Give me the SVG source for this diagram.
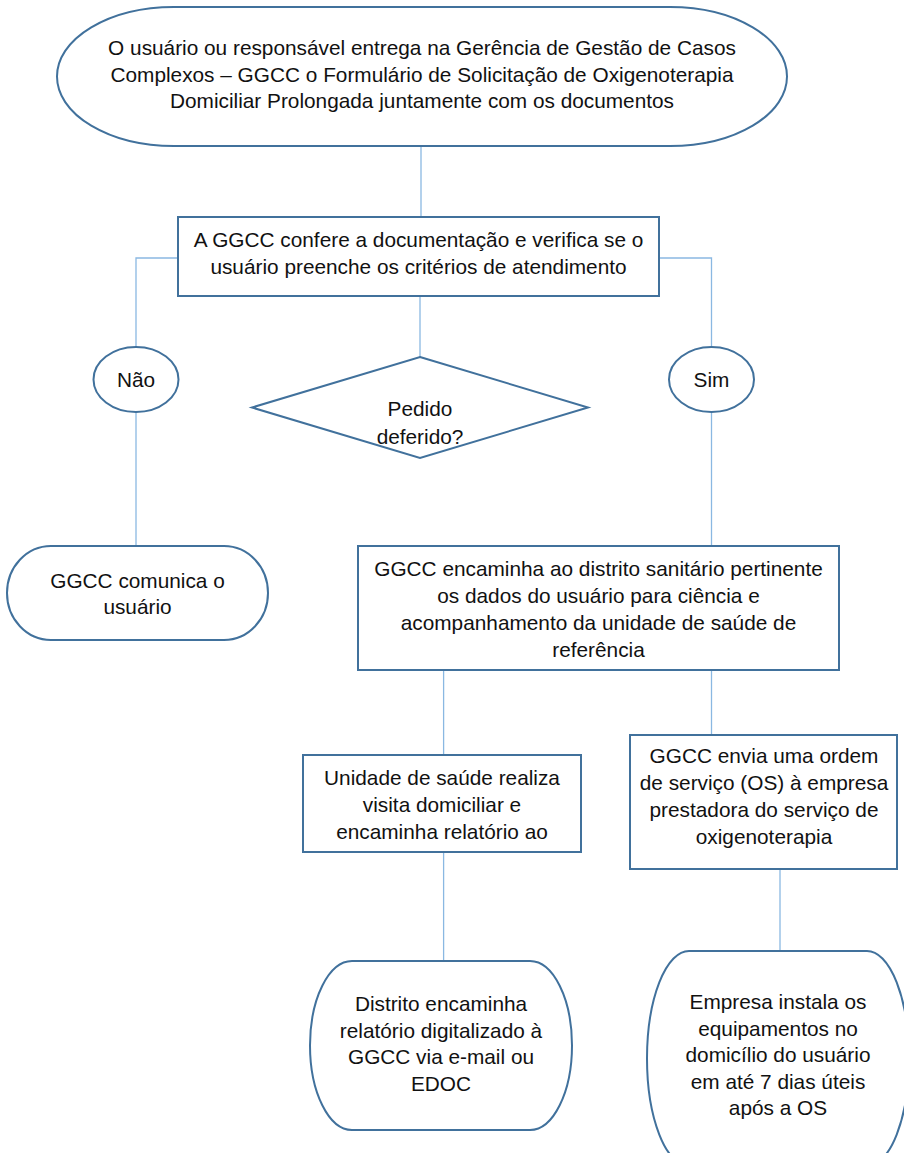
<svg xmlns="http://www.w3.org/2000/svg" width="904" height="1153" viewBox="0 0 904 1153">
<style>
.s{fill:#fff;stroke:#41719C;stroke-width:2}
.c{fill:none;stroke:#8AB8E2;stroke-width:1.3}
text{font-family:"Liberation Sans",Arial,sans-serif;font-size:20.8px;fill:#111;text-anchor:middle}
</style>
<rect width="904" height="1153" fill="#fff"/>
<g id="connectors">
<path class="c" d="M421,146V217"/>
<path class="c" d="M178,258H136V347"/>
<path class="c" d="M659,258H711.5V347"/>
<path class="c" d="M420,296V357"/>
<path class="c" d="M136,412V546"/>
<path class="c" d="M711.5,412V546"/>
<path class="c" d="M443.6,670V755"/>
<path class="c" d="M711.5,670V735"/>
<path class="c" d="M443.6,852V961"/>
<path class="c" d="M780,869V951"/>
</g>
<g id="start">
<rect class="s" x="57" y="7" width="730" height="139" rx="117" ry="69.5"/>
<text x="422" y="55">O usuário ou responsável entrega na Gerência de Gestão de Casos</text>
<text x="422" y="81.5">Complexos – GGCC o Formulário de Solicitação de Oxigenoterapia</text>
<text x="422" y="108">Domiciliar Prolongada juntamente com os documentos</text>
</g>
<g id="confere">
<rect class="s" x="178" y="217" width="481" height="79"/>
<text x="418.5" y="247">A GGCC confere a documentação e verifica se o</text>
<text x="418.5" y="274">usuário preenche os critérios de atendimento</text>
</g>
<g id="nao">
<ellipse class="s" cx="136" cy="379.5" rx="42.5" ry="32.5"/>
<text x="136" y="387">Não</text>
</g>
<g id="sim">
<ellipse class="s" cx="711.5" cy="379.5" rx="42.5" ry="32.5"/>
<text x="711.5" y="387">Sim</text>
</g>
<g id="decisao">
<polygon class="s" points="420,357 588,407.5 420,458 252,407.5"/>
<text x="420" y="416">Pedido</text>
<text x="420" y="444">deferido?</text>
</g>
<g id="comunica">
<rect class="s" x="7" y="546" width="261" height="94" rx="44" ry="47"/>
<text x="137.5" y="588">GGCC comunica o</text>
<text x="137.5" y="613.5">usuário</text>
</g>
<g id="encaminha">
<rect class="s" x="358" y="546" width="481" height="124"/>
<text x="598.5" y="576">GGCC encaminha ao distrito sanitário pertinente</text>
<text x="598.5" y="603">os dados do usuário para ciência e</text>
<text x="598.5" y="630">acompanhamento da unidade de saúde de</text>
<text x="598.5" y="657">referência</text>
</g>
<g id="unidade">
<rect class="s" x="303" y="755" width="278" height="97"/>
<text x="442" y="785">Unidade de saúde realiza</text>
<text x="442" y="812">visita domiciliar e</text>
<text x="442" y="839">encaminha relatório ao</text>
</g>
<g id="os">
<rect class="s" x="630" y="735" width="267" height="134"/>
<text x="764" y="763">GGCC envia uma ordem</text>
<text x="764" y="790">de serviço (OS) à empresa</text>
<text x="764" y="817">prestadora do serviço de</text>
<text x="764" y="844">oxigenoterapia</text>
</g>
<g id="distrito">
<rect class="s" x="310" y="961" width="262" height="169" rx="42" ry="84.5"/>
<text x="441" y="1011">Distrito encaminha</text>
<text x="441" y="1037.5">relatório digitalizado à</text>
<text x="441" y="1064">GGCC via e-mail ou</text>
<text x="441" y="1090.5">EDOC</text>
</g>
<g id="empresa">
<rect class="s" x="647" y="951" width="262" height="215" rx="42" ry="107.5"/>
<text x="778" y="1009">Empresa instala os</text>
<text x="778" y="1035.5">equipamentos no</text>
<text x="778" y="1062">domicílio do usuário</text>
<text x="778" y="1088.5">em até 7 dias úteis</text>
<text x="778" y="1115">após a OS</text>
</g>
</svg>
